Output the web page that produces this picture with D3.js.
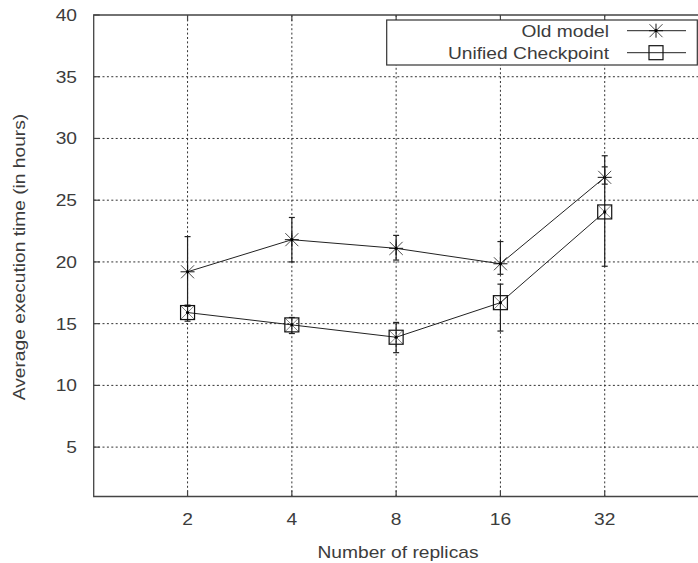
<!DOCTYPE html>
<html>
<head>
<meta charset="utf-8">
<script src="https://cdn.jsdelivr.net/npm/d3@7"></script>
<style>
  body { margin: 0; background: #fff; }
  text { font-family: "Liberation Sans", Arial, sans-serif; fill: #3c3c3c; font-size: 16px; }
</style>
</head>
<body>
<script>

// data
var replicas = ['2', '4', '8', '16', '32'];
var yTicks = [5, 10, 15, 20, 25, 30, 35, 40];

var oldMean = [19.2, 21.8, 21.1, 19.85, 26.85];
var oldLow  = [16.4, 20.0, 20.15, 19.0, 26.3];
var oldHigh = [22.05, 23.6, 22.15, 21.65, 28.6];

var uniMean = [15.9, 14.9, 13.9, 16.7, 24.05];
var uniLow  = [15.2, 14.2, 12.65, 14.4, 19.65];
var uniHigh = [16.5, 15.5, 15.1, 18.2, 27.7];

var seriesNames = ['Old model', 'Unified Checkpoint'];

var width = 698;
var height = 563;
var svg = d3.select('body').append('svg')
  .attr('width', width)
  .attr('height', height);

var pLeft = 93.7, pRight = 709, pTop = 15, pBottom = 496.5;
var stretch = 1.2; // text in the reference is wider than plain Arial

var x = d3.scaleLinear().domain([0.1, 6]).range([pLeft, pRight]);
var y = d3.scaleLinear().domain([1, 40]).range([pBottom, pTop]);

function label(g, tx, ty, anchor, str, rot) {
  return g.append('text')
    .attr('transform', 'translate(' + tx + ',' + ty + ')' + (rot ? ' rotate(' + rot + ')' : '') + ' scale(' + stretch + ',1)')
    .attr('text-anchor', anchor)
    .text(str);
}

var grid = svg.append('g');
var dash = '2,2.4';

// horizontal grid
grid.selectAll('line.h')
  .data(yTicks.filter(function (d) { return d < 40; }))
  .enter().append('line')
  .attr('x1', pLeft).attr('x2', pRight)
  .attr('y1', function (d) { return y(d); })
  .attr('y2', function (d) { return y(d); })
  .style('stroke', '#333')
  .style('stroke-width', 1)
  .style('stroke-dasharray', dash);

// vertical grid
grid.selectAll('line.v')
  .data(replicas)
  .enter().append('line')
  .attr('x1', function (d, i) { return x(i + 1); })
  .attr('x2', function (d, i) { return x(i + 1); })
  .attr('y1', pTop).attr('y2', pBottom)
  .style('stroke', '#333')
  .style('stroke-width', 1)
  .style('stroke-dasharray', dash);

// border
svg.append('path')
  .attr('d', 'M' + pRight + ',' + pTop + 'H' + pLeft + 'V' + pBottom + 'H' + pRight)
  .style('fill', 'none')
  .style('stroke', '#444')
  .style('stroke-width', 1.3);

// tick marks (inward)
var ticks = svg.append('g').style('stroke', '#444').style('stroke-width', 1.2);
yTicks.forEach(function (d) {
  ticks.append('line').attr('x1', pLeft).attr('x2', pLeft + 6)
    .attr('y1', y(d)).attr('y2', y(d));
});
replicas.forEach(function (d, i) {
  ticks.append('line').attr('x1', x(i + 1)).attr('x2', x(i + 1))
    .attr('y1', pBottom).attr('y2', pBottom - 6);
  ticks.append('line').attr('x1', x(i + 1)).attr('x2', x(i + 1))
    .attr('y1', pTop).attr('y2', pTop + 6);
});

// tick labels
var labels = svg.append('g');
yTicks.forEach(function (d) {
  label(labels, 77, y(d) + 6, 'end', d);
});
replicas.forEach(function (d, i) {
  label(labels, x(i + 1), 525, 'middle', d);
});

label(labels, 398, 558, 'middle', 'Number of replicas');
label(labels, 25, 257, 'middle', 'Average execution time (in hours)', -90);

// markers
function star(g, cx, cy) {
  var s = 7, d = 6.5;
  g.append('path')
    .attr('d', 'M' + (cx - s) + ',' + cy + 'H' + (cx + s) +
      'M' + cx + ',' + (cy - s) + 'V' + (cy + s))
    .style('stroke', '#111').style('stroke-width', 1).style('fill', 'none');
  g.append('path')
    .attr('d', 'M' + (cx - d) + ',' + (cy - d) + 'L' + (cx + d) + ',' + (cy + d) +
      'M' + (cx - d) + ',' + (cy + d) + 'L' + (cx + d) + ',' + (cy - d))
    .style('stroke', '#333').style('stroke-width', 0.9).style('fill', 'none');
  g.append('circle').attr('cx', cx).attr('cy', cy).attr('r', 1.6).style('fill', '#000');
}

function box(g, cx, cy, cross) {
  var s = 7;
  if (cross) {
    g.append('path')
      .attr('d', 'M' + (cx - s) + ',' + (cy - s) + 'L' + (cx + s) + ',' + (cy + s) +
        'M' + (cx - s) + ',' + (cy + s) + 'L' + (cx + s) + ',' + (cy - s))
      .style('stroke', '#666').style('stroke-width', 0.8).style('fill', 'none');
    g.append('circle').attr('cx', cx).attr('cy', cy).attr('r', 1.6).style('fill', '#000');
  }
  g.append('rect').attr('x', cx - s).attr('y', cy - s)
    .attr('width', 2 * s).attr('height', 2 * s)
    .style('fill', 'none').style('stroke', '#111').style('stroke-width', 1.2);
}

function drawSeries(mean, low, high, marker) {
  var g = svg.append('g');
  var line = d3.line()
    .x(function (d, i) { return x(i + 1); })
    .y(function (d) { return y(d); });
  g.append('path')
    .datum(mean)
    .attr('d', line)
    .style('fill', 'none')
    .style('stroke', '#222')
    .style('stroke-width', 1);
  mean.forEach(function (m, i) {
    var cx = x(i + 1);
    g.append('line').attr('x1', cx).attr('x2', cx)
      .attr('y1', y(low[i])).attr('y2', y(high[i]))
      .style('stroke', '#222').style('stroke-width', 1.2);
    [low[i], high[i]].forEach(function (v) {
      g.append('line').attr('x1', cx - 3).attr('x2', cx + 3)
        .attr('y1', y(v)).attr('y2', y(v))
        .style('stroke', '#222').style('stroke-width', 1.2);
    });
  });
  mean.forEach(function (m, i) {
    marker(g, x(i + 1), y(m), true);
  });
}

drawSeries(oldMean, oldLow, oldHigh, star);
drawSeries(uniMean, uniLow, uniHigh, box);

// legend
var legend = svg.append('g');
legend.append('rect')
  .attr('x', 386.7).attr('y', 20)
  .attr('width', 310.6).attr('height', 45)
  .style('fill', '#fff')
  .style('stroke', '#333')
  .style('stroke-width', 1.2);

seriesNames.forEach(function (name, i) {
  var ly = 30.7 + i * 22;
  label(legend, 609, ly + 6, 'end', name);
  legend.append('line')
    .attr('x1', 627).attr('x2', 686)
    .attr('y1', ly).attr('y2', ly)
    .style('stroke', '#222').style('stroke-width', 1);
  if (i === 0) star(legend, 656, ly);
  else box(legend, 656, ly, false);
});

</script>
</body>
</html>
